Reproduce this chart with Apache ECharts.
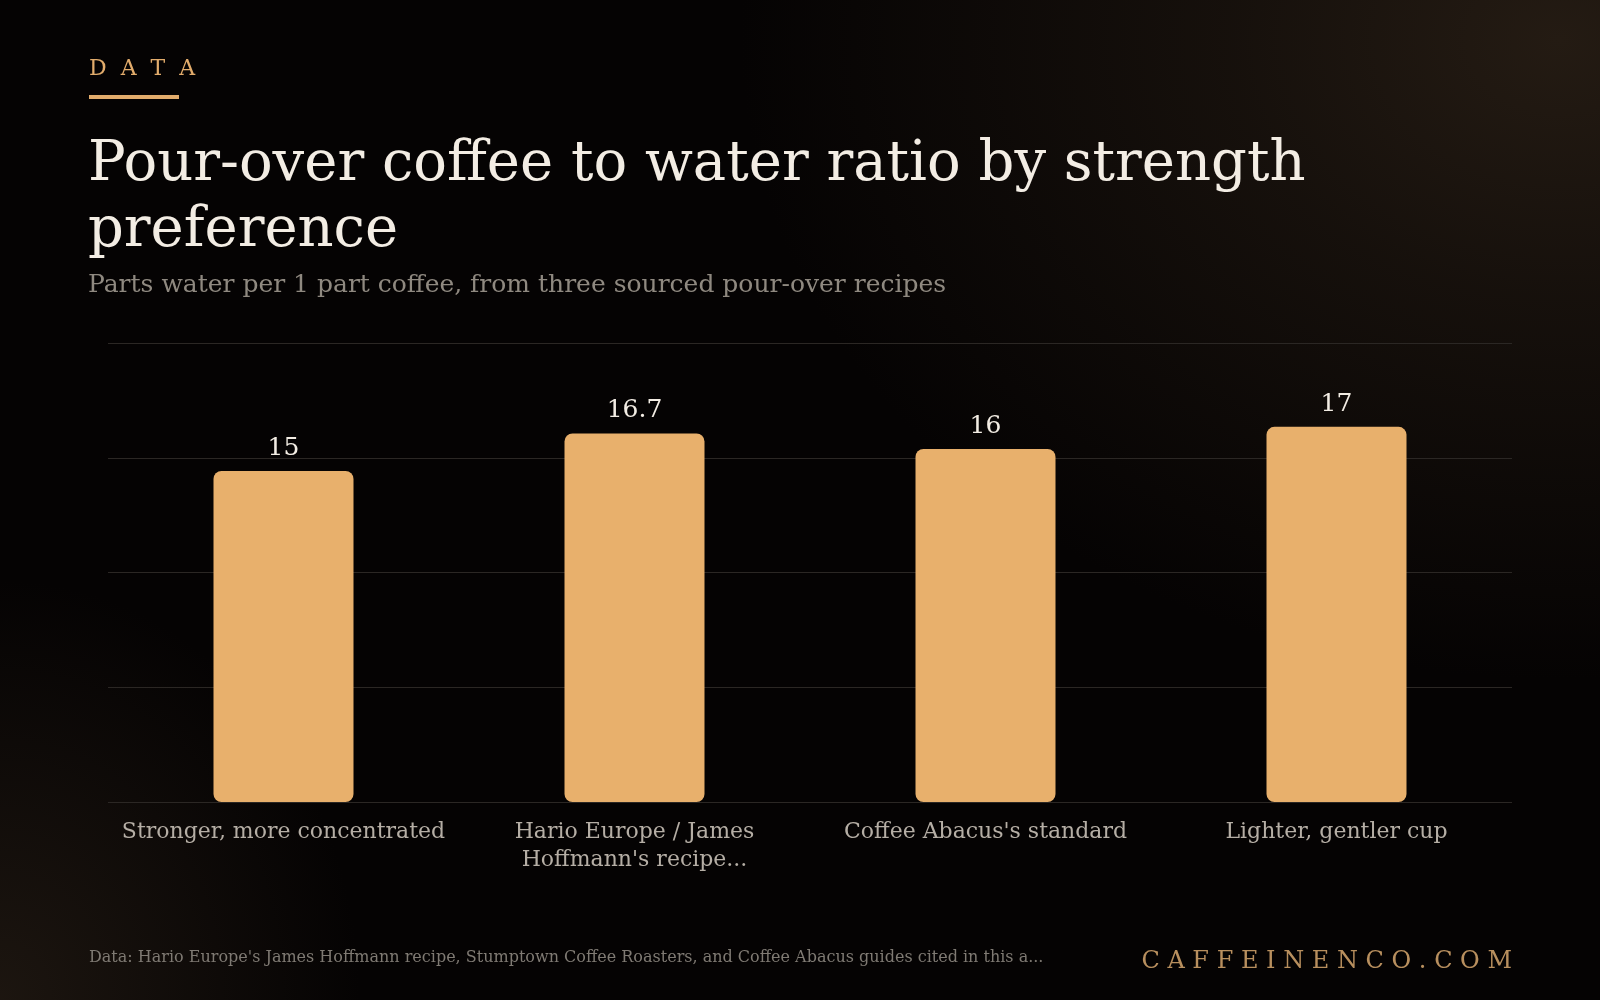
<!DOCTYPE html>
<html>
<head>
<meta charset="utf-8">
<script src="https://cdn.jsdelivr.net/npm/echarts@6/dist/echarts.min.js"></script>
<style>
  html, body { margin: 0; padding: 0; }
  body {
    width: 1600px; height: 1000px; overflow: hidden;
    background:
      radial-gradient(ellipse 820px 640px at 1560px 40px, rgba(36, 27, 19, 1), rgba(36, 27, 19, 0.55) 40%, rgba(20, 14, 10, 0) 100%),
      radial-gradient(ellipse 360px 420px at 0px 1000px, rgba(34, 26, 19, 0.8), rgba(20, 14, 10, 0) 100%),
      #050303;
  }
  #chart { width: 1600px; height: 1000px; }
</style>
</head>
<body>
<div id="chart"></div>
<script>
var categories = [
  'Stronger, more concentrated',
  "Hario Europe / James\nHoffmann's recipe...",
  "Coffee Abacus's standard",
  'Lighter, gentler cup'
];
var ratios = [15, 16.7, 16, 17];
var axisMin = 0;
var axisMax = 20.8;
var axisStep = 5.2;

var serif = '"DejaVu Serif", serif';
var chartDom = document.getElementById('chart');
var myChart = echarts.init(chartDom);
var option;

option = {
  backgroundColor: 'transparent',
  animation: false,
  grid: {
    left: 108,
    right: 88,
    top: 343,
    bottom: 198
  },
  graphic: [
    {
      type: 'text',
      left: 89,
      top: 58,
      style: {
        text: 'D  A  T  A',
        fill: '#e2ac6c',
        font: '22px ' + serif
      }
    },
    {
      type: 'rect',
      left: 89,
      top: 95,
      shape: { width: 90, height: 4 },
      style: { fill: '#e2ac6c' }
    },
    {
      type: 'text',
      left: 88,
      top: 132,
      style: {
        text: 'Pour-over coffee to water ratio by strength\npreference',
        fill: '#f3ede4',
        font: '56px ' + serif,
        lineHeight: 66
      }
    },
    {
      type: 'text',
      left: 88,
      top: 273,
      style: {
        text: 'Parts water per 1 part coffee, from three sourced pour-over recipes',
        fill: '#8f8980',
        font: '25px ' + serif
      }
    },
    {
      type: 'text',
      left: 89,
      top: 950,
      style: {
        text: "Data: Hario Europe's James Hoffmann recipe, Stumptown Coffee Roasters, and Coffee Abacus guides cited in this a...",
        fill: '#7f7a73',
        font: '16px ' + serif
      }
    },
    {
      type: 'text',
      right: 88,
      top: 950,
      style: {
        text: 'C A F F E I N E N C O . C O M',
        fill: '#b88f5e',
        font: '24px ' + serif
      }
    }
  ],
  xAxis: {
    type: 'category',
    data: categories,
    axisLine: { show: false },
    axisTick: { show: false },
    axisLabel: {
      interval: 0,
      margin: 16,
      color: '#b5aea5',
      fontFamily: serif,
      fontSize: 22,
      lineHeight: 28
    }
  },
  yAxis: {
    type: 'value',
    min: axisMin,
    max: axisMax,
    interval: axisStep,
    axisLabel: { show: false },
    axisLine: { show: false },
    axisTick: { show: false },
    splitLine: {
      lineStyle: { color: '#2b2724', width: 1 }
    }
  },
  series: [
    {
      type: 'bar',
      data: ratios,
      barWidth: 140,
      itemStyle: {
        color: '#e8b06c',
        borderRadius: 8
      },
      label: {
        show: true,
        position: 'top',
        distance: 10,
        color: '#f3ede4',
        fontFamily: serif,
        fontSize: 25
      }
    }
  ]
};

option && myChart.setOption(option);
</script>
</body>
</html>
